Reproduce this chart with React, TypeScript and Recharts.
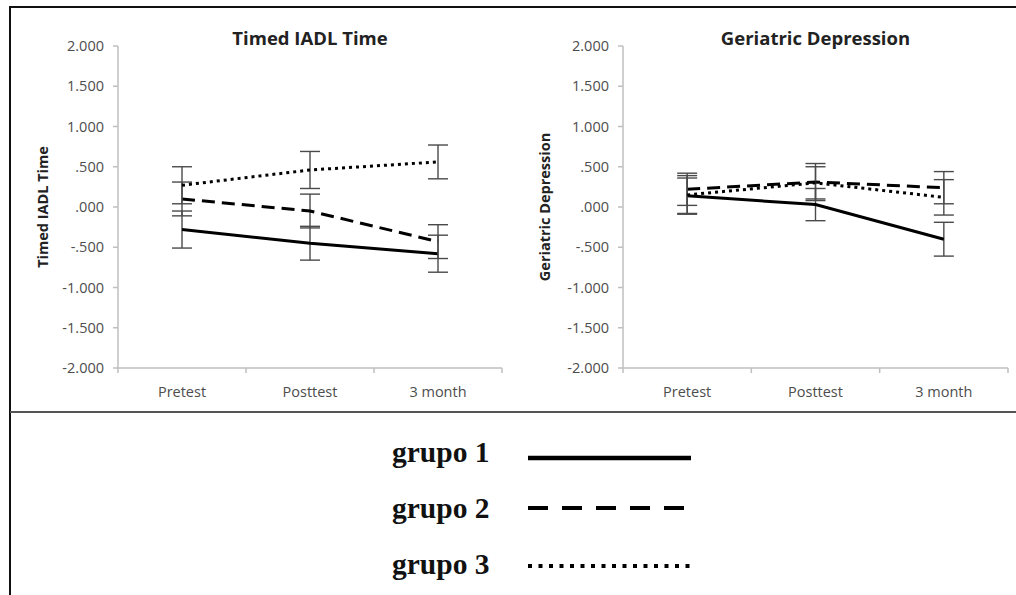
import React from 'react';
import { ErrorBar, Line, LineChart, XAxis, YAxis } from 'recharts';

const categories = ['Pretest', 'Posttest', '3 month'];
const yTicks = [2, 1.5, 1, 0.5, 0, -0.5, -1, -1.5, -2];
const xGridTicks = [0, 0.5, 1, 1.5, 2, 2.5, 3];
const groupNames = ['grupo 1', 'grupo 2', 'grupo 3'];

// Timed IADL Time: means and +/- error per group
const iadlGrupo1 = [-0.28, -0.45, -0.58];
const iadlGrupo1Err = [0.23, 0.21, 0.23];
const iadlGrupo2 = [0.1, -0.05, -0.43];
const iadlGrupo2Err = [0.21, 0.21, 0.21];
const iadlGrupo3 = [0.27, 0.46, 0.56];
const iadlGrupo3Err = [0.23, 0.23, 0.21];

// Geriatric Depression
const gdsGrupo1 = [0.14, 0.03, -0.4];
const gdsGrupo1Err = [0.22, 0.2, 0.21];
const gdsGrupo2 = [0.22, 0.31, 0.24];
const gdsGrupo2Err = [0.2, 0.23, 0.2];
const gdsGrupo3 = [0.15, 0.3, 0.12];
const gdsGrupo3Err = [0.24, 0.2, 0.22];

const AXIS = '#bfbfbf';
const TICK = '#4d4d4d';
const FONT = '"Open Sans", "Liberation Sans", sans-serif';
const TICK_SIZE = 5;
const TICK_MARGIN = 12;
const DASHES = [undefined, '13 7', '3 4'];
const LEGEND_DASHES = [undefined, '20 14', '4 6.5'];

function buildRows(means: number[][], errs: number[][]) {
  return categories.map((name, i) => ({
    pos: i + 0.5,
    name,
    g1: means[0][i],
    g1e: errs[0][i],
    g2: means[1][i],
    g2e: errs[1][i],
    g3: means[2][i],
    g3e: errs[2][i],
  }));
}

const iadlRows = buildRows(
  [iadlGrupo1, iadlGrupo2, iadlGrupo3],
  [iadlGrupo1Err, iadlGrupo2Err, iadlGrupo3Err],
);
const gdsRows = buildRows(
  [gdsGrupo1, gdsGrupo2, gdsGrupo3],
  [gdsGrupo1Err, gdsGrupo2Err, gdsGrupo3Err],
);

function formatY(v: number): string {
  return v.toFixed(3).replace(/^(-?)0\./, '$1.');
}

// Excel-style category axis: tick marks between categories, labels centred
function XTick(props: any) {
  const { x, y, payload } = props;
  const v = payload.value as number;
  if (Number.isInteger(v)) {
    return (
      <line
        x1={x}
        x2={x}
        y1={y - TICK_MARGIN - TICK_SIZE}
        y2={y - TICK_MARGIN}
        stroke={AXIS}
        strokeWidth={1.5}
      />
    );
  }
  return (
    <text x={x} y={y} dy="0.8em" textAnchor="middle" fill={TICK} fontSize={14.5} fontFamily={FONT}>
      {categories[Math.floor(v)]}
    </text>
  );
}

function Panel({
  rows,
  title,
  yLabel,
  width,
  yAxisWidth,
  labelOffset,
}: {
  rows: ReturnType<typeof buildRows>;
  title: string;
  yLabel: string;
  width: number;
  yAxisWidth: number;
  labelOffset: number;
}) {
  const rightMargin = 6;
  return (
    <div style={{ position: 'relative', width, height: 402 }}>
      <div
        style={{
          position: 'absolute',
          top: 17,
          left: yAxisWidth,
          width: width - yAxisWidth - rightMargin,
          textAlign: 'center',
          fontFamily: FONT,
          fontWeight: 700,
          fontSize: 18.5,
          color: '#222',
        }}
      >
        {title}
      </div>
      <LineChart
        width={width}
        height={402}
        data={rows}
        margin={{ top: 38, right: rightMargin, bottom: 12, left: 0 }}
      >
        <XAxis
          type="number"
          dataKey="pos"
          domain={[0, 3]}
          ticks={xGridTicks}
          interval={0}
          tick={<XTick />}
          tickLine={false}
          tickSize={TICK_SIZE}
          tickMargin={TICK_MARGIN}
          height={30}
          axisLine={{ stroke: AXIS, strokeWidth: 1.5 }}
        />
        <YAxis
          type="number"
          domain={[-2, 2]}
          ticks={yTicks}
          interval={0}
          width={yAxisWidth}
          tickFormatter={formatY}
          tickSize={TICK_SIZE}
          tickMargin={9}
          tick={{ fill: TICK, fontSize: 14.5, fontFamily: FONT }}
          tickLine={{ stroke: AXIS, strokeWidth: 1.5 }}
          axisLine={{ stroke: AXIS, strokeWidth: 1.5 }}
          label={{
            value: yLabel,
            angle: -90,
            position: 'insideLeft',
            offset: labelOffset,
            style: { textAnchor: 'middle', fill: '#222', fontWeight: 700, fontSize: 14.5, fontFamily: FONT },
          }}
        />
        {['g1', 'g2', 'g3'].map((key, i) => (
          <Line
            key={key}
            type="linear"
            dataKey={key}
            stroke="#000"
            strokeWidth={3}
            strokeDasharray={DASHES[i]}
            dot={false}
            activeDot={false}
            isAnimationActive={false}
          >
            <ErrorBar dataKey={`${key}e`} direction="y" width={10} stroke="#4a4a4a" strokeWidth={1.4} />
          </Line>
        ))}
      </LineChart>
    </div>
  );
}

function LegendBlock() {
  const textBaselines = [50, 106, 162];
  const lineYs = [46, 96, 154];
  return (
    <svg width={1016} height={183} style={{ position: 'absolute', left: 0, top: 412 }}>
      {groupNames.map((name, i) => (
        <g key={name}>
          <text
            x={392}
            y={textBaselines[i]}
            fontFamily='"Liberation Serif", "DejaVu Serif", serif'
            fontWeight={700}
            fontSize={29.5}
            fill="#111"
          >
            {name}
          </text>
          <line
            x1={528}
            x2={i === 1 ? 686 : 691}
            y1={lineYs[i]}
            y2={lineYs[i]}
            stroke="#000"
            strokeWidth={i === 0 ? 4.5 : 4}
            strokeDasharray={LEGEND_DASHES[i]}
          />
        </g>
      ))}
    </svg>
  );
}

export default function App() {
  return (
    <div
      style={{
        position: 'absolute',
        left: 0,
        top: 0,
        width: 1016,
        height: 595,
        background: '#fff',
        overflow: 'hidden',
      }}
    >
      <div style={{ position: 'absolute', left: 9, top: 6, width: 2, height: 589, background: '#111' }} />
      <div style={{ position: 'absolute', left: 9, top: 6, width: 1007, height: 2, background: '#111' }} />
      <div style={{ position: 'absolute', left: 10, top: 411, width: 1006, height: 2, background: '#555' }} />
      <div style={{ position: 'absolute', left: 12, top: 8 }}>
        <Panel
          rows={iadlRows}
          title="Timed IADL Time"
          yLabel="Timed IADL Time"
          width={496}
          yAxisWidth={106}
          labelOffset={31}
        />
      </div>
      <div style={{ position: 'absolute', left: 508, top: 8 }}>
        <Panel
          rows={gdsRows}
          title="Geriatric Depression"
          yLabel="Geriatric Depression"
          width={506}
          yAxisWidth={115}
          labelOffset={37}
        />
      </div>
      <LegendBlock />
    </div>
  );
}
